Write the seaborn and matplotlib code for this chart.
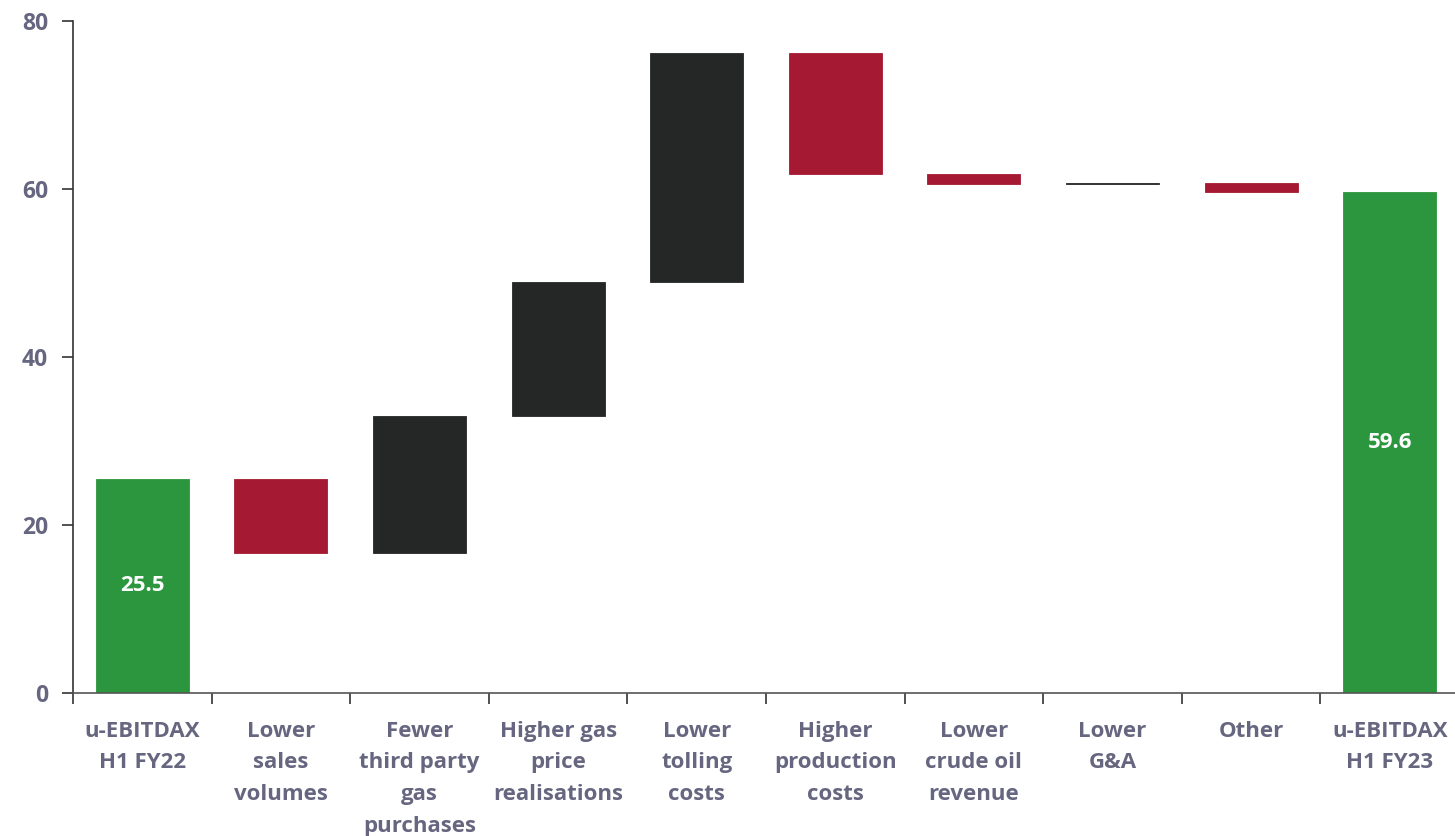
import numpy as np
import pandas as pd
import matplotlib
matplotlib.use("Agg")
import matplotlib.pyplot as plt
import seaborn as sns

# Bridge from H1 FY22 to H1 FY23 underlying EBITDAX
categories = [
    "u-EBITDAX\nH1 FY22",
    "Lower\nsales\nvolumes",
    "Fewer\nthird party\ngas\npurchases",
    "Higher gas\nprice\nrealisations",
    "Lower\ntolling\ncosts",
    "Higher\nproduction\ncosts",
    "Lower\ncrude oil\nrevenue",
    "Lower\nG&A",
    "Other",
    "u-EBITDAX\nH1 FY23",
]
start_value = 25.5
changes = [-8.8, 16.3, 15.9, 27.3, -14.4, -1.2, 0.1, -1.1]
end_value = 59.6
yticks = [0, 20, 40, 60, 80]

GREEN = "#2C963F"
RED = "#A51A32"
DARK = "#252626"
TEXT = "#676680"

# Build floating bar geometry from the running total
bottoms, heights, colors = [0.0], [start_value], [GREEN]
level = start_value
for c in changes:
    new = level + c
    bottoms.append(min(level, new))
    heights.append(abs(c))
    colors.append(DARK if c > 0 else RED)
    level = new
bottoms.append(0.0)
heights.append(end_value)
colors.append(GREEN)

df = pd.DataFrame({"category": categories, "height": heights, "bottom": bottoms})

sns.set_theme(style="white")
plt.rcParams["font.family"] = ["Open Sans", "DejaVu Sans"]

fig = plt.figure(figsize=(14.55, 8.36), dpi=100)
ax = fig.add_axes([73 / 1455, 1 - 693 / 836, 1386 / 1455, 672 / 836])

# one bar call for all categories so the bottom array lines up bar by bar
sns.barplot(
    data=df, x="category", y="height", order=categories,
    bottom=df["bottom"].values, width=0.67, ax=ax,
    saturation=1, linewidth=0.6, color=DARK,
)
for patch, col in zip(ax.patches, colors):
    patch.set_facecolor(col)
    patch.set_edgecolor(col)

ax.set_ylim(0, 80)
ax.set_xlim(-0.5, len(categories) - 0.5)
ax.set_yticks(yticks)
ax.set_xlabel("")
ax.set_ylabel("")

# category labels at centres, tick marks at boundaries
ax.set_xticks(range(len(categories)))
ax.set_xticklabels(categories, fontsize=16, fontweight="bold", color=TEXT,
                   linespacing=1.67, va="top")
ax.set_xticks(np.arange(-0.5, len(categories), 1.0), minor=True)
ax.tick_params(axis="x", which="major", length=0, pad=20)
ax.tick_params(axis="x", which="minor", length=8, width=1.2, color="#333333",
               direction="out", bottom=True)
ax.tick_params(axis="y", which="major", length=8, width=1.2, color="#333333",
               direction="out", left=True, pad=10)
for lbl in ax.get_yticklabels():
    lbl.set_fontsize(16.5)
    lbl.set_fontweight("bold")
    lbl.set_color(TEXT)

sns.despine(ax=ax, top=True, right=True)
ax.spines["left"].set_color("#333333")
ax.spines["left"].set_linewidth(1.2)
ax.spines["bottom"].set_color("#555555")
ax.spines["bottom"].set_linewidth(1.2)
ax.grid(False)

# value labels inside the total bars
for idx, val in [(0, start_value), (len(categories) - 1, end_value)]:
    ax.text(idx, val / 2, f"{val:.1f}", ha="center", va="center",
            color="white", fontsize=16, fontweight="bold")

fig.savefig("out.png", dpi=100)
